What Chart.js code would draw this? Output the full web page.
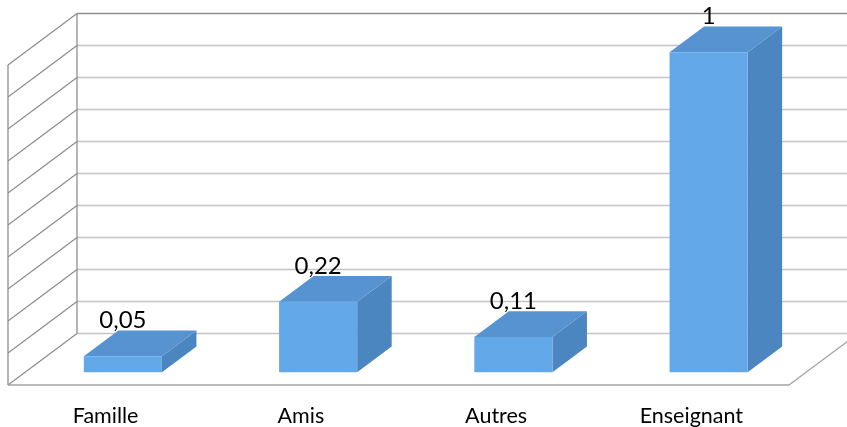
<!DOCTYPE html>
<html>
<head>
    <meta charset="utf-8">
    <title>Personnes consultées</title>
    <script src="https://cdn.jsdelivr.net/npm/chart.js"></script>
    <style>
        html, body {
            margin: 0;
            padding: 0;
            background: #ffffff;
        }

        .chart-box {
            position: relative;
            width: 847px;
            height: 427px;
        }
    </style>
</head>
<body>
    <div class="chart-box">
        <canvas id="sourcesChart"></canvas>
    </div>

<script>
    // Données
    const categories = ['Famille', 'Amis', 'Autres', 'Enseignant'];
    const valeurs = [0.05, 0.22, 0.11, 1];
    const graduations = [0, 0.1, 0.2, 0.3, 0.4, 0.5, 0.6, 0.7, 0.8, 0.9, 1];

    // Profondeur de la vue 3D (décalage du mur du fond)
    const PROF_X = 69;
    const PROF_Y = 51.5;

    const couleurs = {
        face: '#63a8e8',
        dessus: '#5693d0',
        cote: '#4b86c0',
        grille: '#c4c4c4',
        arete: '#8e8e8e',
        sol: '#a3a3a3'
    };

    const formatFr = v => String(v).replace('.', ',');

    function trait(ctx, x1, y1, x2, y2) {
        ctx.beginPath();
        ctx.moveTo(x1, y1);
        ctx.lineTo(x2, y2);
        ctx.stroke();
    }

    function polygone(ctx, pts, couleur) {
        ctx.beginPath();
        ctx.moveTo(pts[0][0], pts[0][1]);
        pts.slice(1).forEach(p => ctx.lineTo(p[0], p[1]));
        ctx.closePath();
        ctx.fillStyle = couleur;
        ctx.fill();
    }

    // Murs, sol et quadrillage en perspective cavalière
    const murs3d = {
        id: 'murs3d',
        beforeDatasetsDraw(chart) {
            const { ctx, chartArea: zone, scales: { y } } = chart;
            const g = zone.left, d = zone.right;
            const bas = y.getPixelForValue(0);
            const haut = y.getPixelForValue(1);
            ctx.save();
            ctx.lineWidth = 1.3;

            graduations.forEach(v => {
                const py = y.getPixelForValue(v);
                ctx.strokeStyle = (v === 1) ? couleurs.arete : couleurs.grille;
                trait(ctx, g + PROF_X, py - PROF_Y, chart.width, py - PROF_Y);
                ctx.strokeStyle = couleurs.arete;
                trait(ctx, g, py, g + PROF_X, py - PROF_Y);
            });

            ctx.strokeStyle = couleurs.arete;
            trait(ctx, g, haut, g, bas);
            trait(ctx, g + PROF_X, haut - PROF_Y, g + PROF_X, bas - PROF_Y);

            ctx.strokeStyle = couleurs.sol;
            trait(ctx, g, bas, d, bas);
            trait(ctx, d, bas, d + PROF_X, bas - PROF_Y);
            ctx.restore();
        },
        afterDatasetsDraw(chart) {
            const { ctx } = chart;
            const meta = chart.getDatasetMeta(0);
            const avantX = PROF_X * 0.25, avantY = PROF_Y * 0.25;
            const epX = PROF_X * 0.5, epY = PROF_Y * 0.5;
            ctx.save();

            meta.data.forEach(barre => {
                const x0 = barre.x - barre.width / 2 + avantX;
                const x1 = barre.x + barre.width / 2 + avantX;
                const yh = barre.y - avantY;
                const yb = barre.base - avantY;

                polygone(ctx, [[x1, yh], [x1 + epX, yh - epY], [x1 + epX, yb - epY], [x1, yb]], couleurs.cote);
                polygone(ctx, [[x0, yh], [x0 + epX, yh - epY], [x1 + epX, yh - epY], [x1, yh]], couleurs.dessus);
                polygone(ctx, [[x0, yh], [x1, yh], [x1, yb], [x0, yb]], couleurs.face);
            });

            // étiquettes de valeur
            ctx.font = '24px Lato';
            ctx.fillStyle = '#000000';
            ctx.textAlign = 'center';
            ctx.textBaseline = 'alphabetic';
            meta.data.forEach((barre, i) => {
                const cx = barre.x + avantX;
                const yDos = barre.y - avantY - epY;
                ctx.fillText(formatFr(valeurs[i]), cx, yDos - 2);
            });
            ctx.restore();
        }
    };

    new Chart(document.getElementById('sourcesChart'), {
        type: 'bar',
        data: {
            labels: categories,
            datasets: [{
                data: valeurs,
                backgroundColor: 'rgba(0,0,0,0)',
                borderWidth: 0,
                categoryPercentage: 1,
                barPercentage: 0.4
            }]
        },
        options: {
            responsive: true,
            maintainAspectRatio: false,
            animation: false,
            layout: {
                padding: { left: 8, right: 58, top: 65, bottom: 0 }
            },
            plugins: {
                legend: { display: false },
                tooltip: { enabled: false }
            },
            scales: {
                x: {
                    grid: { display: false, drawTicks: false },
                    border: { display: false },
                    afterFit(scale) {
                        scale.height = 42;
                    },
                    ticks: {
                        color: '#000000',
                        padding: 18,
                        font: { family: 'Lato', size: 21.5 }
                    }
                },
                y: {
                    display: false,
                    min: 0,
                    max: 1,
                    ticks: { stepSize: 0.1 }
                }
            }
        },
        plugins: [murs3d]
    });
</script>
</body>
</html>
